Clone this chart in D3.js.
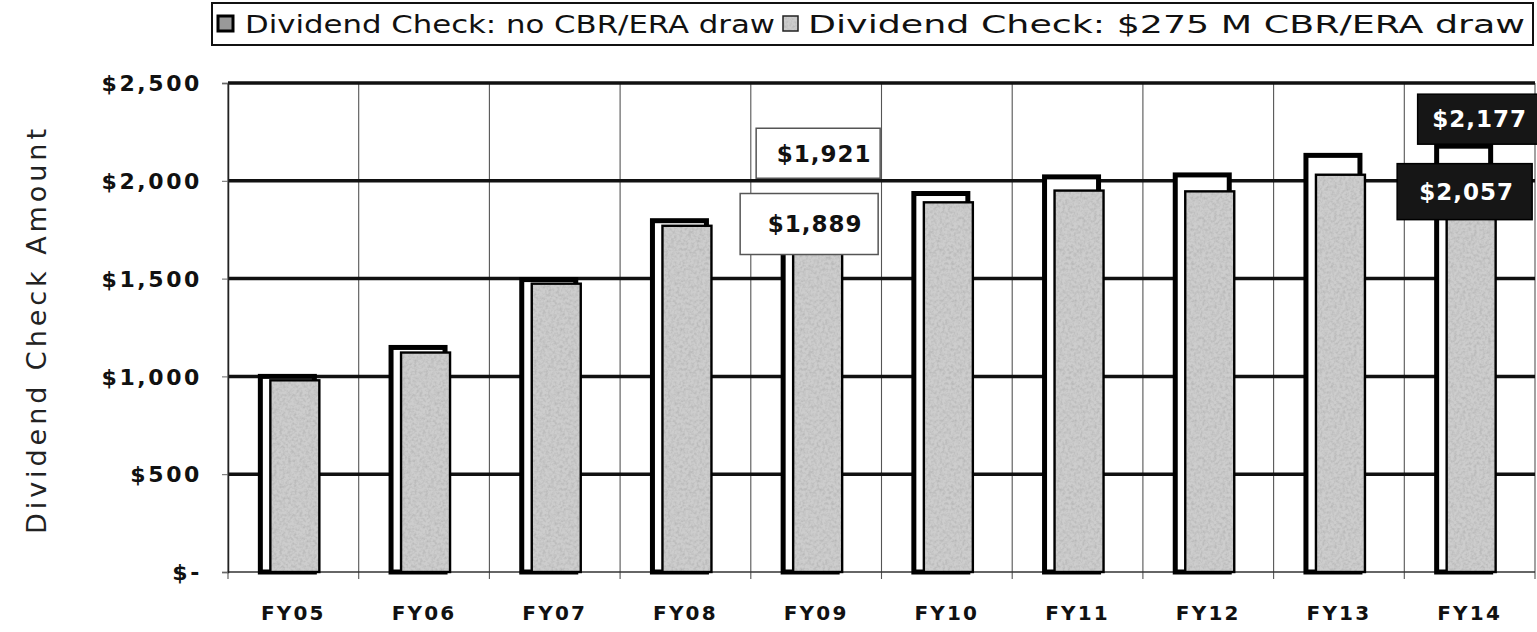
<!DOCTYPE html>
<html>
<head>
<meta charset="utf-8">
<script src="https://cdn.jsdelivr.net/npm/d3@7/dist/d3.min.js"></script>
<style>
  html, body { margin: 0; padding: 0; background: #fff; }
  svg { display: block; }
</style>
</head>
<body>
<svg id="chart" width="1537" height="632"></svg>
<script>
// ---- data ----
const categories = ["FY05","FY06","FY07","FY08","FY09","FY10","FY11","FY12","FY13","FY14"];
const noDraw     = [1000, 1148, 1495, 1796, 1921, 1935, 2020, 2030, 2130, 2177];
const withDraw   = [980, 1122, 1474, 1770, 1889, 1890, 1950, 1946, 2031, 2057];
const seriesNames = ["Dividend Check: no CBR/ERA draw", "Dividend Check: $275 M CBR/ERA draw"];
const yTicks = [0, 500, 1000, 1500, 2000, 2500];
const yTickLabels = ["$-", "$500", "$1,000", "$1,500", "$2,000", "$2,500"];
const labeledCategories = ["FY09", "FY14"];
const yTitle = "Dividend Check Amount";

// ---- layout ----
const svg = d3.select("#chart");
const W = 1537, H = 632;
const plot = {left: 228, right: 1535, top: 83, bottom: 572};

svg.append("rect").attr("width", W).attr("height", H).attr("fill", "#fff");

// texture for the light bars and dark label boxes
const defs = svg.append("defs");
const filt = defs.append("filter").attr("id", "grain")
  .attr("filterUnits", "userSpaceOnUse").attr("x", 0).attr("y", 0).attr("width", 120).attr("height", 120);
filt.append("feTurbulence").attr("type", "fractalNoise").attr("baseFrequency", 0.35).attr("numOctaves", 2).attr("result", "n");
filt.append("feColorMatrix").attr("in", "n").attr("type", "matrix")
  .attr("values", "0 0 0 0 0.4  0 0 0 0 0.4  0 0 0 0 0.4  1.3 0 0 0 -0.5");
const pat = defs.append("pattern").attr("id", "lightFill").attr("patternUnits", "userSpaceOnUse")
  .attr("width", 120).attr("height", 120);
pat.append("rect").attr("width", 120).attr("height", 120).attr("fill", "#cdcdcd");
pat.append("rect").attr("width", 120).attr("height", 120).attr("fill", "#000").attr("filter", "url(#grain)");

const x = d3.scaleBand().domain(categories).range([plot.left, plot.right]).paddingInner(0).paddingOuter(0);
const y = d3.scaleLinear().domain([0, 2500]).range([plot.bottom, plot.top]);
const fmt = v => "$" + d3.format(",")(v);

// vertical thin gridlines at band boundaries
const bounds = categories.map(c => x(c)).concat([plot.right]);
svg.append("g").selectAll("line").data(bounds).join("line")
  .attr("x1", d => d).attr("x2", d => d)
  .attr("y1", plot.top).attr("y2", plot.bottom + 7)
  .attr("stroke", "#555").attr("stroke-width", 1.1);

// horizontal gridlines
svg.append("g").selectAll("line").data(yTicks.filter(t => t > 0)).join("line")
  .attr("x1", plot.left).attr("x2", plot.right)
  .attr("y1", d => y(d)).attr("y2", d => y(d))
  .attr("stroke", "#111").attr("stroke-width", 3.5);

// baseline
svg.append("line").attr("x1", plot.left).attr("x2", plot.right)
  .attr("y1", y(0)).attr("y2", y(0)).attr("stroke", "#333").attr("stroke-width", 1.5);

// y axis
const yAxis = d3.axisLeft(y).tickValues(yTicks).tickSize(6).tickPadding(20)
  .tickFormat(d => yTickLabels[yTicks.indexOf(d)]);
const gy = svg.append("g").attr("transform", `translate(${plot.left},0)`).call(yAxis);
gy.select(".domain").attr("stroke", "#222").attr("stroke-width", 1.5);
gy.selectAll(".tick line").attr("stroke", "#666");
gy.selectAll(".tick text")
  .attr("font-family", "DejaVu Sans, sans-serif").attr("font-weight", "bold")
  .attr("font-size", 22).attr("letter-spacing", 2.6).attr("fill", "#111")
  .attr("dy", "0.35em");

// x axis labels
const xAxis = d3.axisBottom(x).tickSize(0).tickPadding(34);
const gx = svg.append("g").attr("transform", `translate(0,${plot.bottom})`).call(xAxis);
gx.select(".domain").remove();
gx.selectAll(".tick text")
  .attr("font-family", "DejaVu Sans, sans-serif").attr("font-weight", "bold")
  .attr("font-size", 20).attr("letter-spacing", 2.2).attr("fill", "#111");

// y title
svg.append("text")
  .attr("transform", `translate(46, ${(plot.top + plot.bottom) / 2 + 4}) rotate(-90)`)
  .attr("text-anchor", "middle")
  .attr("font-family", "DejaVu Sans, sans-serif").attr("font-size", 27)
  .attr("fill", "#222")
  .attr("textLength", 405).attr("lengthAdjust", "spacing")
  .text(yTitle);

// bars
const rows = categories.map((c, i) => ({c, a: noDraw[i], b: withDraw[i]}));
const darkOff = -33, darkW = 54, lightOff = -23, lightW = 49;
const cx = c => x(c) + x.bandwidth() / 2;

svg.append("g").selectAll("rect").data(rows).join("rect")
  .attr("x", d => cx(d.c) + darkOff).attr("width", darkW)
  .attr("y", d => y(d.a)).attr("height", d => y(0) - y(d.a))
  .attr("fill", "#fff").attr("stroke", "#000").attr("stroke-width", 5);

svg.append("g").selectAll("rect").data(rows).join("rect")
  .attr("x", d => cx(d.c) + lightOff).attr("width", lightW)
  .attr("y", d => y(d.b)).attr("height", d => y(0) - y(d.b))
  .attr("fill", "url(#lightFill)").attr("stroke", "#000").attr("stroke-width", 2.4);

// data labels
function label(cat, val, dxCenter, boxTop, w, h, dark, tdx) {
  const g = svg.append("g");
  const cxv = cx(cat) + dxCenter;
  g.append("rect").attr("x", cxv - w / 2).attr("y", boxTop).attr("width", w).attr("height", h)
    .attr("fill", dark ? "#161616" : "#fff")
    .attr("stroke", dark ? "#000" : "#555").attr("stroke-width", 1.5);
  g.append("text").attr("x", cxv + tdx).attr("y", boxTop + h / 2)
    .attr("dy", "0.36em").attr("text-anchor", "middle")
    .attr("font-family", "DejaVu Sans, sans-serif").attr("font-weight", "bold")
    .attr("font-size", 23).attr("letter-spacing", 1)
    .attr("fill", dark ? "#fff" : "#111")
    .text(fmt(val));
}
const iA = categories.indexOf(labeledCategories[0]);
label(labeledCategories[0], noDraw[iA], 2, y(noDraw[iA]) - 68, 124, 50, false, 6);
label(labeledCategories[0], withDraw[iA], -7, y(withDraw[iA]) - 9, 138, 61, false, 6);
const iB = categories.indexOf(labeledCategories[1]);
label(labeledCategories[1], noDraw[iB], 11, y(noDraw[iB]) - 52, 126, 50, true, -1);
label(labeledCategories[1], withDraw[iB], -5, y(withDraw[iB]) - 6, 135, 56, true, 2);

// legend
const lg = svg.append("g");
lg.append("rect").attr("x", 212).attr("y", 3).attr("width", 1321).attr("height", 42)
  .attr("fill", "#fff").attr("stroke", "#111").attr("stroke-width", 2);
const legendItems = [
  {name: seriesNames[0], sx: 218, tx: 245, tl: 530, fill: "#999", stroke: "#000", sw: 3},
  {name: seriesNames[1], sx: 783, tx: 808, tl: 717, fill: "url(#lightFill)", stroke: "#222", sw: 1.5}
];
legendItems.forEach(it => {
  lg.append("rect").attr("x", it.sx).attr("y", 16).attr("width", 15).attr("height", 15)
    .attr("fill", it.fill).attr("stroke", it.stroke).attr("stroke-width", it.sw);
  lg.append("text").attr("x", it.tx).attr("y", 33)
    .attr("font-family", "DejaVu Sans, sans-serif").attr("font-size", 24).attr("fill", "#111")
    .attr("textLength", it.tl).attr("lengthAdjust", "spacingAndGlyphs")
    .text(it.name);
});
</script>
</body>
</html>
